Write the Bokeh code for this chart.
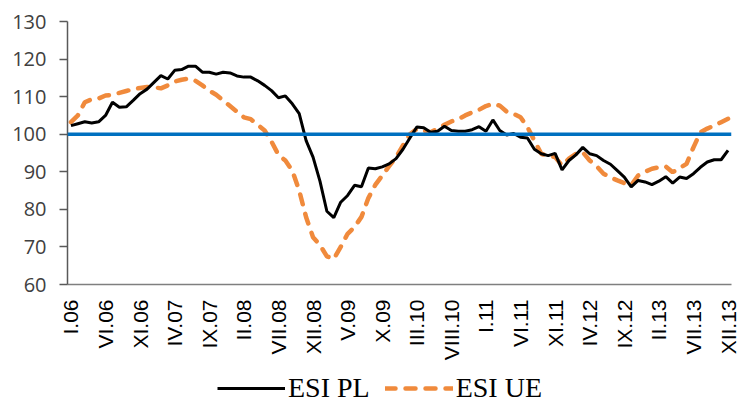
import math
from bokeh.plotting import figure
from bokeh.layouts import column
from bokeh.models import Range1d, FixedTicker, Span, Legend, LegendItem
from bokeh.embed import file_html
from bokeh.resources import INLINE

tick_labels = ["I.06", "VI.06", "XI.06", "IV.07", "IX.07", "II.08", "VII.08", "XII.08",
               "V.09", "X.09", "III.10", "VIII.10", "I.11", "VI.11", "XI.11", "IV.12",
               "IX.12", "II.13", "VII.13", "XII.13"]

esi_pl = [102.3, 102.8, 103.3, 103.0, 103.3, 105.0, 108.5, 107.2, 107.3, 109.0,
          110.8, 112.0, 113.8, 115.6, 114.7, 117.0, 117.2, 118.1, 118.1, 116.5,
          116.5, 116.0, 116.5, 116.3, 115.5, 115.2, 115.2, 114.2, 113.0, 111.6,
          109.7, 110.2, 108.1, 105.5, 98.3, 93.9, 87.5, 79.5, 77.8, 81.9,
          83.7, 86.4, 86.0, 91.0, 90.8, 91.3, 92.1, 93.5, 96.0, 99.0,
          101.9, 101.7, 100.5, 100.8, 102.1, 101.0, 100.8, 100.8, 101.2, 102.0,
          100.8, 103.8, 101.0, 99.8, 100.2, 99.2, 99.0, 96.0, 94.8, 94.3,
          94.9, 90.5, 93.0, 94.5, 96.5, 94.8, 94.3, 93.0, 92.0, 90.3,
          88.6, 86.0, 87.7, 87.3, 86.6, 87.5, 88.7, 87.0, 88.6, 88.2,
          89.5, 91.2, 92.6, 93.2, 93.2, 95.7]

esi_ue = [103.2, 105.0, 108.5, 109.3, 109.5, 110.3, 110.5, 111.0, 111.5, 112.0,
          112.3, 112.6, 112.5, 112.2, 113.0, 114.0, 114.5, 114.8, 114.2, 113.0,
          111.6, 110.5, 109.0, 107.5, 106.0, 104.5, 104.0, 102.5, 101.0, 98.0,
          94.5, 93.0, 90.3, 85.0, 77.9, 72.6, 70.5, 67.5, 66.8, 70.0,
          73.5, 75.3, 78.0, 83.0, 86.5, 89.0, 91.5, 93.9, 97.0, 100.0,
          101.4, 101.0, 100.5, 101.5, 102.5, 103.4, 104.0, 105.0, 105.8, 106.5,
          107.5, 108.1, 107.6, 106.0, 105.4, 104.5, 101.9, 98.3, 94.8, 94.2,
          93.9, 91.7, 93.5, 94.8, 95.2, 93.0, 91.5, 89.5, 88.5, 87.7,
          87.0, 86.4, 89.0, 90.0, 90.8, 91.2, 91.4, 89.9, 91.0, 92.1,
          96.5, 100.5, 101.5, 102.3, 103.2, 104.1]

reference_level = 100
months = list(range(len(esi_pl)))
tick_step = 5

PL_STYLE = dict(line_color="black", line_width=3)
UE_STYLE = dict(line_color="#F08A3C", line_width=4.5, line_dash="10 10", line_cap="round")

p = figure(width=753, height=363, output_backend="svg", toolbar_location=None,
           x_range=Range1d(-0.5, len(esi_pl) - 0.5), y_range=Range1d(60, 130),
           min_border_left=67, min_border_right=22, min_border_top=21,
           min_border_bottom=79)
p.outline_line_color = None
p.xgrid.visible = False
p.ygrid.visible = False
p.border_fill_color = "white"

ticks = list(range(0, len(esi_pl), tick_step))
p.xaxis.ticker = FixedTicker(ticks=ticks)
p.xaxis.major_label_overrides = {t: lab for t, lab in zip(ticks, tick_labels)}
p.xaxis.major_label_orientation = math.pi / 2
p.xaxis.major_tick_line_color = None
p.xaxis.minor_tick_line_color = None
p.xaxis.major_tick_out = 0
p.xaxis.major_tick_in = 0
p.xaxis.major_label_standoff = 15
p.xaxis.axis_line_color = "#7f7f7f"
p.xaxis.axis_line_width = 1.5
p.xaxis.major_label_text_font = "Liberation Sans"
p.xaxis.major_label_text_font_size = "21px"
p.xaxis.major_label_text_color = "black"

p.yaxis.ticker = FixedTicker(ticks=list(range(60, 131, 10)))
p.yaxis.minor_tick_line_color = None
p.yaxis.major_tick_out = 8
p.yaxis.major_tick_in = 0
p.yaxis.major_tick_line_color = "#595959"
p.yaxis.major_tick_line_width = 1.5
p.yaxis.axis_line_color = "#595959"
p.yaxis.axis_line_width = 1.5
p.yaxis.major_label_standoff = 13
p.yaxis.major_label_text_font = "Open Sans"
p.yaxis.major_label_text_font_size = "20px"
p.yaxis.major_label_text_color = "#404040"

p.add_layout(Span(location=reference_level, dimension="width",
                  line_color="#0070C0", line_width=3.5))

p.line(months, esi_ue, **UE_STYLE)
p.line(months, esi_pl, **PL_STYLE)

# legend strip below the chart (sample renderers lie outside the visible range)
q = figure(width=753, height=44, output_backend="svg", toolbar_location=None,
           x_range=Range1d(0, 1), y_range=Range1d(0, 1),
           min_border_left=0, min_border_right=0, min_border_top=0, min_border_bottom=0)
q.axis.visible = False
q.grid.visible = False
q.outline_line_color = None
k_pl = q.line([5, 6], [5, 6], **PL_STYLE)
k_ue = q.line([5, 6], [5, 6], **UE_STYLE)
legend = Legend(items=[LegendItem(label="ESI PL", renderers=[k_pl]),
                       LegendItem(label="ESI UE", renderers=[k_ue])],
                orientation="horizontal", location=(150, 3),
                label_text_font="Liberation Serif", label_text_font_size="28px",
                label_text_color="black",
                border_line_color=None, background_fill_alpha=0,
                glyph_width=68, glyph_height=30, label_height=30,
                label_standoff=3, spacing=15, padding=0, margin=0)
q.add_layout(legend)

open("out.html", "w").write(file_html(column(p, q, spacing=0), INLINE))
